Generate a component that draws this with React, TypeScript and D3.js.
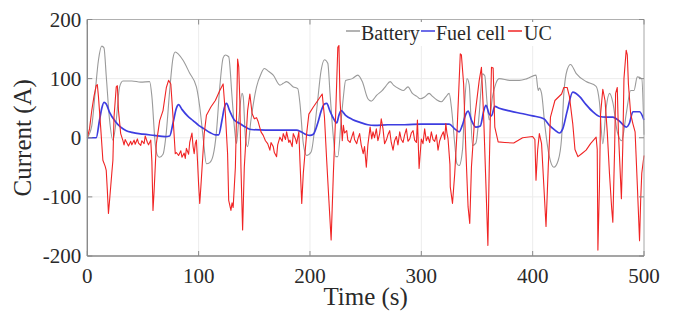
import React from 'react'
import * as d3 from 'd3'

// time (s) and current (A), one pair of arrays per series
const batteryT = [0, 4, 7, 10, 13, 15, 17, 20, 23, 26, 29, 32, 40, 48, 56, 58, 61, 63, 65, 68, 71, 74, 77, 79, 82, 86, 92, 98, 101, 104, 107, 110, 113, 116, 119, 122, 124, 127, 130, 132, 134, 136, 139, 140, 142, 144, 147, 152, 156, 159, 163, 167, 173, 176, 179, 185, 189, 191, 194, 197, 201, 206, 210, 213, 216, 218, 221, 223, 225, 228, 230, 232, 238, 243, 247, 252, 255, 260, 265, 268, 272, 275, 280, 284, 288, 292, 296, 299, 303, 307, 310, 314, 318, 322, 325, 327, 330, 332, 334, 337, 339, 341, 343, 346, 349, 352, 355, 357, 359, 361, 364, 367, 370, 380, 388, 395, 403, 405, 406, 408, 411, 415, 419, 423, 426, 428, 431, 434, 439, 448, 457, 460, 463, 466, 469, 472, 476, 480, 484, 488, 491, 494, 498, 500]
const batteryI = [0, 20, 75, 131, 155, 152, 105, 30, -4, 30, 86, 96, 96, 94, 95, 70, -10, -30, -33, -28, 10, 80, 135, 145, 141, 131, 109, 86, 52, 1, -44, -42, -30, 10, 86, 135, 140, 137, 69, 20, -10, 30, 75, 70, 1, -15, 30, 86, 108, 117, 112, 106, 89, 92, 95, 86, 83, 58, -10, -30, -24, 47, 114, 132, 126, 75, 1, -32, -32, 30, 69, 97, 100, 106, 95, 66, 62, 72, 80, 87, 95, 89, 83, 80, 86, 75, 70, 66, 69, 75, 70, 64, 61, 69, 75, 52, -10, -44, -47, -20, 60, 100, 90, -13, -9, 40, 108, 105, 60, 30, 70, 92, 100, 97, 97, 100, 106, 80, 84, 75, 20, -32, -50, -38, 0, 75, 115, 124, 109, 95, 87, 60, -10, 50, 75, 60, 10, -5, 40, 80, 80, 103, 100, 5]

const fuelCellT = [0, 8, 11, 13, 15, 17, 20, 25, 30, 35, 40, 50, 60, 70, 74, 77, 80, 82, 85, 90, 95, 100, 105, 110, 115, 118, 121, 123, 125, 128, 132, 137, 142, 147, 160, 175, 188, 192, 197, 200, 203, 207, 210, 213, 215, 218, 221, 224, 226, 228, 232, 238, 245, 252, 258, 270, 285, 300, 315, 325, 330, 334, 337, 340, 342, 345, 349, 353, 356, 358, 361, 363, 366, 370, 380, 390, 400, 410, 415, 420, 424, 427, 431, 436, 442, 448, 454, 460, 466, 472, 478, 484, 487, 490, 496, 500]
const fuelCellI = [0, 0, 30, 50, 60, 57, 43, 28, 18, 12, 9, 6, 4, 2, 3, 25, 50, 56, 48, 37, 29, 21, 15, 9, 5, 5, 30, 50, 58, 45, 30, 24, 18, 14, 13, 13, 13, 10, 5, 4, 6, 25, 45, 57, 58, 45, 33, 25, 38, 46, 38, 31, 26, 22, 21, 22, 22, 23, 23, 23, 15, 10, 22, 40, 45, 30, 18, 20, 45, 55, 40, 37, 53, 50, 45, 41, 37, 32, 21, 13, 8, 15, 45, 77, 70, 56, 44, 36, 35, 35, 28, 18, 25, 44, 44, 30]

const ucT = [0, 2, 4, 6, 8, 9, 10, 12, 14, 16, 17, 18, 19, 20, 22, 23, 24, 26, 27, 28, 30, 32, 33, 34, 36, 37, 39, 40, 42, 43, 45, 46, 48, 49, 51, 52, 54, 55, 57, 58, 59, 60, 62, 65, 68, 71, 73, 75, 77, 79, 80, 82, 84, 85, 87, 88, 89, 91, 92, 94, 95, 96, 97, 98, 99, 100, 101, 102, 105, 107, 111, 115, 119, 122, 124, 126, 127, 129, 130, 131, 133, 134, 135, 136, 137, 138, 139.5, 141, 144, 146, 148, 150, 152, 153.5, 156, 158, 160, 162, 164, 165, 167, 168, 170, 171, 173, 175, 176, 178, 179, 181, 182, 184, 185, 187, 188, 190, 191, 192.6, 194, 197, 199, 203, 207, 211, 213, 215, 217, 219, 221, 223, 225, 226, 227, 229, 230, 231, 233, 234, 236, 237, 239, 240, 242, 243, 244.6, 246, 247.8, 249, 250.6, 252, 254, 255.5, 256.6, 258, 259.6, 261, 262.6, 264, 265.6, 267, 268.6, 270, 271.6, 273, 274.6, 276, 277.6, 279, 280.6, 282, 283.6, 285, 286.6, 288, 289.6, 291, 292.6, 294, 295.6, 296.5, 297, 298, 300, 301.5, 303, 304.5, 306, 307.5, 309, 310.5, 312, 313.5, 315, 316.5, 318, 319.8, 321, 322, 323, 324, 325.7, 326, 328, 330, 332, 335, 336, 338, 340, 342, 343.5, 345, 348, 352, 354, 356, 358, 359.8, 361, 363, 364.5, 366, 369, 375, 383, 391, 400, 402, 403, 404.5, 406, 408, 410, 412, 414, 416, 420, 426, 428, 431, 433, 436, 438, 440.7, 444, 448, 452, 457, 458, 458.6, 460, 461, 463, 465, 467, 469, 471, 472, 473.6, 474.5, 476, 477, 479.7, 481, 482, 484, 485, 486, 488, 490, 492, 494, 496, 497, 498, 500]
const ucI = [0, 15, 46, 70, 88, 90, 70, 18, -38, -48, -55, -89, -128, -106, -60, -38, 35, 86, 88, 46, 7, -5, -12, -3, -10, -14, -6, -12, -4, -11, -2, -9, -13, -5, -10, 3, -8, -12, -4, -40, -123, -90, -10, 29, 46, 85, 97, 91, 35, -27, -25, -30, -22, -33, -26, -35, -18, -28, -8, 8, -15, -27, -10, -4, -40, -80, -111, -83, 7, 38, 52, 63, 80, 91, 41, -27, -106, -123, -110, -118, -50, 35, 133, 120, 63, -50, -156, -50, 46, 74, 41, 32, 34, 27, 10, 4, -5, -10, -21, -8, -15, -25, -32, -12, 1, -6, 7, -3, 10, -8, -4, -15, 7, -2, -10, 10, -40, -111, -60, 7, 40, 52, 63, 74, 35, -38, -106, -173, -61, 35, 153, 156, 63, -5, 21, 8, 12, -4, -8, -2, 10, -3, -10, -2, 7, -12, -27, -15, -50, -12, 18, -2, 10, 0, 15, -5, 7, 32, 15, -10, -4, 5, 12, -8, -21, -5, 2, -12, 10, -3, -8, 5, 15, -6, -2, 8, 12, -4, -8, 30, 5, -52, -2, -10, 15, -5, 2, -8, 10, -3, -6, 5, -21, -5, 3, 10, -3, 24, 8, -2, -45, -83, -111, -61, 7, 142, 140, 91, -21, -117, -145, -50, 35, 97, 119, 35, -78, -182, -50, 119, 118, 18, -7, -8, -9, 0, 2, -3, -72, -20, 7, -10, -80, -150, -50, 35, 63, 74, 85, 85, 70, 24, -20, -32, -27, -21, -10, 1, -20, -190, -80, 40, 82, 63, 10, -61, -120, -143, -20, 75, 85, 10, -103, -10, 100, 148, 140, 91, 41, 24, 10, -80, -174, -106, -60, -30]

const xTicks = [0, 100, 200, 300, 400, 500]
const yTicks = [-200, -100, 0, 100, 200]

const W = 683
const H = 312
const margin = { top: 19.5, right: 39, bottom: 56, left: 87.3 }
const font = '"Liberation Serif", "Times New Roman", serif'

function Series(props: { t: number[]; v: number[]; x: any; y: any; color: string; width: number; curve?: any }) {
  const { t, v, x, y, color, width, curve } = props
  const pts: [number, number][] = t.map((d, i) => [d, v[i]])
  const path = d3.line<[number, number]>()
    .x(d => x(d[0]))
    .y(d => y(d[1]))
    .curve(curve || d3.curveLinear)(pts)
  return <path d={path || ''} fill="none" stroke={color} strokeWidth={width} strokeLinejoin="round" />
}

export default function App() {
  const x = d3.scaleLinear().domain([0, 500]).range([margin.left, W - margin.right])
  const y = d3.scaleLinear().domain([-200, 200]).range([H - margin.bottom, margin.top])
  const [x0, x1] = x.range()
  const [y0, y1] = y.range()

  const legend = [
    { name: 'Battery', color: '#9a9a9a', lx: 346, tx: 361 },
    { name: 'Fuel cell', color: '#3d3de0', lx: 421, tx: 436 },
    { name: 'UC', color: '#f02424', lx: 508, tx: 524 },
  ]

  return (
    <svg width={W} height={H} style={{ position: 'absolute', left: 0, top: 0, background: '#fff' }}>
      {/* grid */}
      <g stroke="#ececec" strokeWidth={1}>
        {xTicks.map(t => <line key={'gx' + t} x1={x(t)} x2={x(t)} y1={y1} y2={y0} />)}
        {yTicks.map(t => <line key={'gy' + t} x1={x0} x2={x1} y1={y(t)} y2={y(t)} />)}
      </g>

      <Series t={batteryT} v={batteryI} x={x} y={y} color="#9a9a9a" width={1.1} curve={d3.curveMonotoneX} />
      <Series t={fuelCellT} v={fuelCellI} x={x} y={y} color="#3d3de0" width={1.7} curve={d3.curveMonotoneX} />
      <Series t={ucT} v={ucI} x={x} y={y} color="#f02424" width={1.1} />

      {/* box */}
      <line x1={x0} x2={x1} y1={y1} y2={y1} stroke="#b0b0b0" />
      <line x1={x1} x2={x1} y1={y1} y2={y0} stroke="#b0b0b0" />
      <line x1={x0} x2={x0} y1={y1} y2={y0} stroke="#8a8a8a" strokeWidth={1.4} />
      <line x1={x0} x2={x1} y1={y0} y2={y0} stroke="#8a8a8a" strokeWidth={1.4} />

      {/* ticks */}
      <g stroke="#8a8a8a" strokeWidth={1}>
        {xTicks.map(t => <line key={'tb' + t} x1={x(t)} x2={x(t)} y1={y0} y2={y0 - 5} />)}
        {xTicks.map(t => <line key={'tt' + t} x1={x(t)} x2={x(t)} y1={y1} y2={y1 + 5} />)}
        {yTicks.map(t => <line key={'tl' + t} x1={x0} x2={x0 + 5} y1={y(t)} y2={y(t)} />)}
        {yTicks.map(t => <line key={'tr' + t} x1={x1} x2={x1 - 5} y1={y(t)} y2={y(t)} />)}
      </g>

      <g fontFamily={font} fontSize={21} fill="#2a2a2a">
        {xTicks.map(t => (
          <text key={'lx' + t} x={x(t)} y={y0 + 27} textAnchor="middle">{t}</text>
        ))}
        {yTicks.map(t => (
          <text key={'ly' + t} x={x0 - 6} y={y(t) + 7} textAnchor="end">{t}</text>
        ))}
      </g>

      <text x={(x0 + x1) / 2} y={305} textAnchor="middle" fontFamily={font} fontSize={25} fill="#2a2a2a">Time (s)</text>
      <text transform={`translate(31, ${(y0 + y1) / 2}) rotate(-90)`} textAnchor="middle" fontFamily={font} fontSize={25} fill="#2a2a2a">Current (A)</text>

      {/* legend */}
      <rect x={343} y={22} width={212} height={24} fill="#fff" />
      {legend.map(d => (
        <g key={d.name}>
          <line x1={d.lx} x2={d.lx + 14} y1={31} y2={31} stroke={d.color} strokeWidth={1.5} />
          <text x={d.tx} y={40} fontFamily={font} fontSize={20} fill="#2a2a2a">{d.name}</text>
        </g>
      ))}
    </svg>
  )
}
